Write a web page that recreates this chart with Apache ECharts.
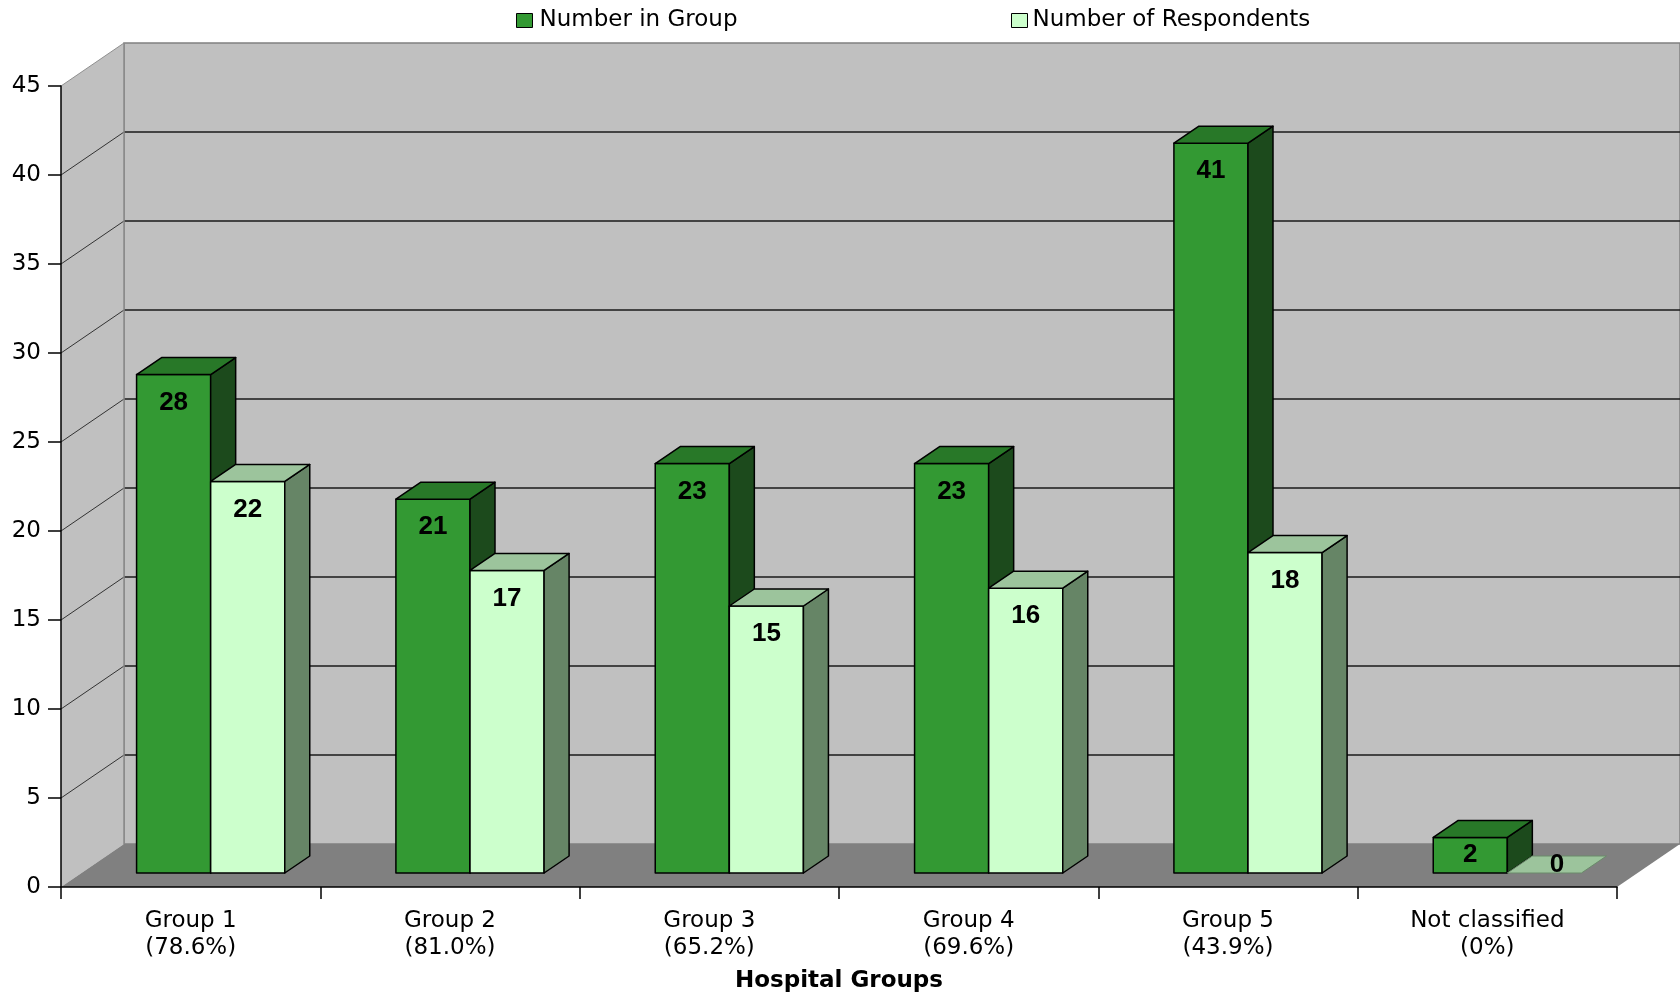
<!DOCTYPE html>
<html>
<head>
<meta charset="utf-8">
<script src="https://cdn.jsdelivr.net/npm/echarts@6/dist/echarts.min.js"></script>
<style>
html,body{margin:0;padding:0;background:#fff;}
#chart{width:1680px;height:994px;}
</style>
</head>
<body>
<div id="chart"></div>
<script>
const categories = ['Group 1\n(78.6%)', 'Group 2\n(81.0%)', 'Group 3\n(65.2%)', 'Group 4\n(69.6%)', 'Group 5\n(43.9%)', 'Not classified\n(0%)'];
const numberInGroup = [28, 21, 23, 23, 41, 2];
const numberOfRespondents = [22, 17, 15, 16, 18, 0];
const yTicks = [0, 5, 10, 15, 20, 25, 30, 35, 40, 45];
const seriesNames = ['Number in Group', 'Number of Respondents'];
const xAxisName = 'Hospital Groups';

// 3D geometry (pixels)
const WALL_DX = 63, WALL_DY = -43;
const FRONT_DX = 20, FRONT_DY = -14;
const DEPTH_DX = 25, DEPTH_DY = -17;
const BAR_FRAC = 0.2857;

const FONT = '"DejaVu Sans", sans-serif';

const chart = echarts.init(document.getElementById('chart'));

function wallRender(params, api) {
  const cs = params.coordSys;
  const x0 = cs.x, x1 = cs.x + cs.width;
  const yBot = cs.y + cs.height, yTop = cs.y;
  const bx0 = x0 + WALL_DX, bx1 = x1 + WALL_DX;
  const children = [];
  children.push({type: 'polygon', shape: {points: [[bx0, yTop + WALL_DY], [bx1, yTop + WALL_DY], [bx1, yBot + WALL_DY], [bx0, yBot + WALL_DY]]},
    style: {fill: '#c0c0c0', stroke: '#808080', lineWidth: 1.5}});
  children.push({type: 'polygon', shape: {points: [[x0, yTop], [bx0, yTop + WALL_DY], [bx0, yBot + WALL_DY], [x0, yBot]]},
    style: {fill: '#c0c0c0'}});
  children.push({type: 'polygon', shape: {points: [[x0, yBot], [bx0, yBot + WALL_DY], [bx1, yBot + WALL_DY], [x1, yBot]]},
    style: {fill: '#808080'}});
  yTicks.forEach(function (v) {
    if (v === 0) return;
    const y = api.coord([0, v])[1];
    const top = v === yTicks[yTicks.length - 1];
    if (!top) {
      children.push({type: 'line', shape: {x1: bx0, y1: y + WALL_DY, x2: bx1, y2: y + WALL_DY},
        style: {stroke: '#1a1a1a', lineWidth: 1.5}});
    }
    children.push({type: 'line', shape: {x1: x0, y1: y, x2: bx0, y2: y + WALL_DY},
      style: {stroke: top ? '#909090' : '#333333', lineWidth: 1}});
  });
  children.push({type: 'line', shape: {x1: bx0, y1: yTop + WALL_DY, x2: bx0, y2: yBot + WALL_DY},
    style: {stroke: '#8a8a8a', lineWidth: 1.5}});
  return {type: 'group', children: children};
}

function makeBarRender(leftSide, colors) {
  return function (params, api) {
    const i = api.value(0), v = api.value(1);
    const base = api.coord([i, 0]);
    const tp = api.coord([i, v]);
    const bw = api.size([1, 0])[0];
    const w = bw * BAR_FRAC;
    const x0 = base[0] + (leftSide ? -w : 0) + FRONT_DX;
    const x1 = x0 + w;
    const yb = base[1] + FRONT_DY;
    const yt = tp[1] + FRONT_DY;
    const h = yb - yt;
    const children = [];
    const stroke = {stroke: '#000', lineWidth: 1.5, lineJoin: 'round'};
    if (h > 0.5) {
      children.push({type: 'polygon', shape: {points: [[x0, yb], [x1, yb], [x1, yt], [x0, yt]]},
        style: Object.assign({fill: colors.front}, stroke)});
      children.push({type: 'polygon', shape: {points: [[x1, yb], [x1 + DEPTH_DX, yb + DEPTH_DY], [x1 + DEPTH_DX, yt + DEPTH_DY], [x1, yt]]},
        style: Object.assign({fill: colors.side}, stroke)});
    }
    children.push({type: 'polygon', shape: {points: [[x0, yt], [x1, yt], [x1 + DEPTH_DX, yt + DEPTH_DY], [x0 + DEPTH_DX, yt + DEPTH_DY]]},
      style: Object.assign({fill: colors.top}, stroke, h > 0.5 ? {} : {lineWidth: 1, stroke: '#6a8a6a'})});
    let lx = (x0 + x1) / 2, ly = yt + Math.min(28, h / 2);
    if (h <= 0.5) { lx += DEPTH_DX / 2; ly += DEPTH_DY / 2; }
    children.push({type: 'text', style: {x: lx, y: ly, text: String(v), fill: '#000',
      font: 'bold 26px "Liberation Sans", Arial, sans-serif', align: 'center', verticalAlign: 'middle'}});
    return {type: 'group', children: children};
  };
}

const option = {
  backgroundColor: '#ffffff',
  animation: false,
  grid: {left: 61, right: 63, top: 86, bottom: 107, containLabel: false, outerBoundsMode: 'none'},
  legend: [
    {data: [seriesNames[0]], left: 511, top: 4, itemWidth: 16, itemHeight: 14, icon: 'rect',
      itemStyle: {borderColor: '#000', borderWidth: 1},
      textStyle: {fontFamily: FONT, fontSize: 23, color: '#000', padding: [0, 0, 0, 2]}},
    {data: [seriesNames[1]], left: 1006, top: 4, itemWidth: 16, itemHeight: 14, icon: 'rect',
      itemStyle: {borderColor: '#000', borderWidth: 1},
      textStyle: {fontFamily: FONT, fontSize: 23, color: '#000', padding: [0, 0, 0, 0]}}
  ],
  xAxis: {
    type: 'category', data: categories, boundaryGap: true, z: 10,
    name: xAxisName, nameLocation: 'middle', nameGap: 83,
    nameTextStyle: {fontFamily: FONT, fontSize: 23, fontWeight: 'bold', color: '#000'},
    axisLine: {lineStyle: {color: '#000', width: 1.5}},
    axisTick: {show: true, length: 12, interval: 0, lineStyle: {color: '#000', width: 1.5}},
    axisLabel: {interval: 0, fontFamily: FONT, fontSize: 23, lineHeight: 27, color: '#000', margin: 21},
    splitLine: {show: false}
  },
  yAxis: {
    type: 'value', min: 0, max: 45, interval: 5, z: 10,
    axisLine: {show: true, lineStyle: {color: '#000', width: 1.5}},
    axisTick: {show: true, length: 13, lineStyle: {color: '#000', width: 1.5}},
    axisLabel: {fontFamily: FONT, fontSize: 23, color: '#000', margin: 20},
    splitLine: {show: false}
  },
  series: [
    {type: 'custom', name: '__walls', silent: true, z: 1, renderItem: wallRender, data: [[0, 0]], encode: {x: 0, y: 1}},
    {type: 'custom', name: seriesNames[0], z: 2, itemStyle: {color: '#339933'},
      renderItem: makeBarRender(true, {front: '#339933', top: '#287828', side: '#1c4a1c'}),
      data: numberInGroup.map(function (v, i) { return [i, v]; }), encode: {x: 0, y: 1}},
    {type: 'custom', name: seriesNames[1], z: 3, itemStyle: {color: '#ccffcc'},
      renderItem: makeBarRender(false, {front: '#ccffcc', top: '#9cc49c', side: '#668566'}),
      data: numberOfRespondents.map(function (v, i) { return [i, v]; }), encode: {x: 0, y: 1}}
  ]
};
chart.setOption(option);
</script>
</body>
</html>
